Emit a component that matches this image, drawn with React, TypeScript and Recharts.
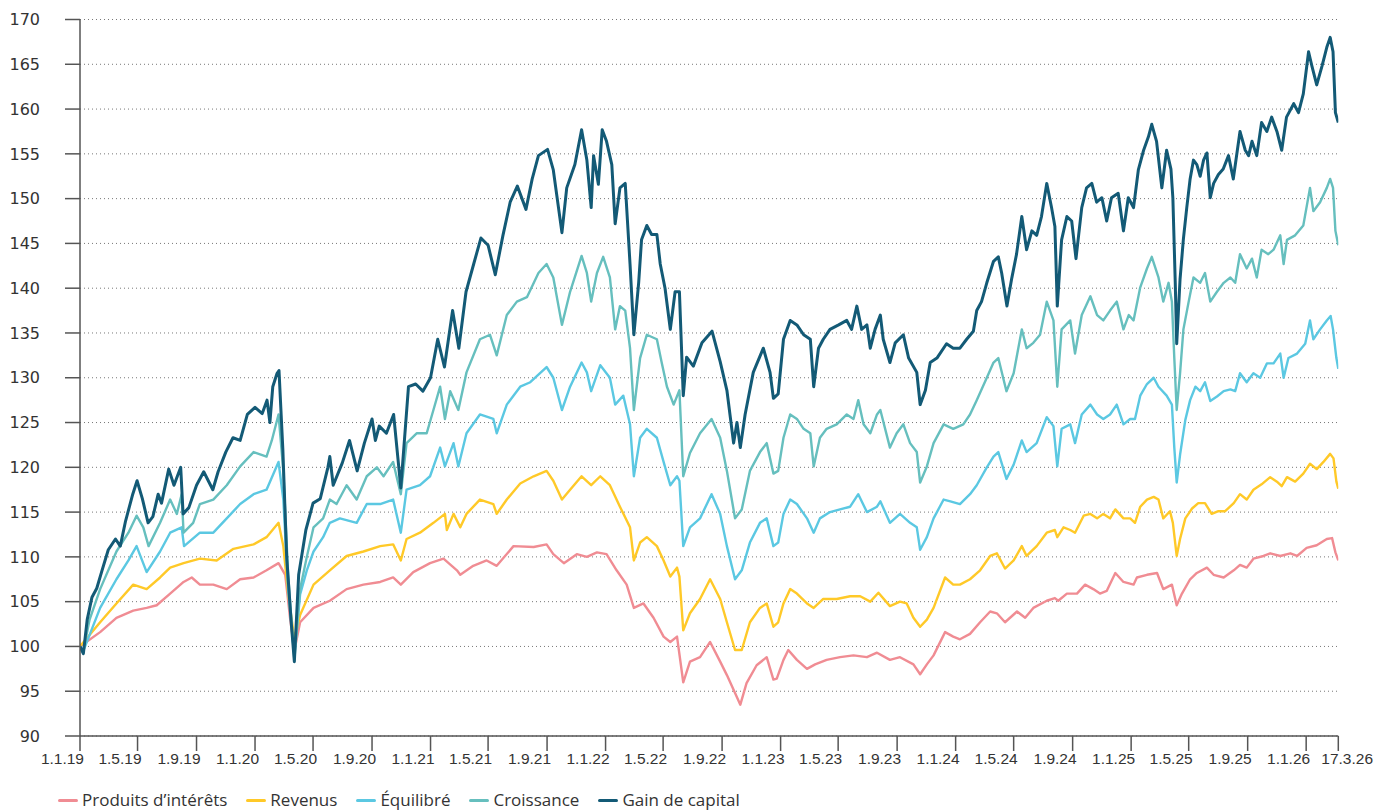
import React from 'react';
import { LineChart, Line, XAxis, YAxis, CartesianGrid } from 'recharts';

// x values are day offsets from 1.1.19
const tickDays = [0, 120, 243, 365, 486, 609, 731, 851, 974, 1096, 1216, 1339, 1461, 1581, 1704, 1826, 1947, 2070, 2192, 2312, 2435, 2557, 2624];
const tickLabels = ['1.1.19', '1.5.19', '1.9.19', '1.1.20', '1.5.20', '1.9.20', '1.1.21', '1.5.21', '1.9.21', '1.1.22', '1.5.22', '1.9.22', '1.1.23', '1.5.23', '1.9.23', '1.1.24', '1.5.24', '1.9.24', '1.1.25', '1.5.25', '1.9.25', '1.1.26', '17.3.26'];
const yTicks = [90, 95, 100, 105, 110, 115, 120, 125, 130, 135, 140, 145, 150, 155, 160, 165, 170];

const produitsInterets: [number, number][] = [[0,100],[42,101.6],[76,103.2],[111,104],[139,104.3],[160,104.6],[188,105.9],[216,107.2],[233,107.7],[250,106.9],[278,106.9],[306,106.4],[334,107.5],[362,107.7],[389,108.5],[414,109.3],[428,108],[438,103.2],[447,99.5],
[459,102.7],[487,104.3],[521,105.1],[556,106.4],[591,106.9],[626,107.2],[653,107.7],[669,106.9],[695,108.3],[730,109.3],[758,109.8],[786,108.5],[793,108],[820,109],[848,109.6],[869,109],[904,111.2],[946,111.1],[973,111.4],[987,110.3],[1009,109.3],[1036,110.3],[1057,110],[1078,110.5],[1098,110.3],[1119,108.5],[1140,106.9],[1155,104.3],[1175,104.8],[1196,103.2],[1217,101.1],[1231,100.5],[1245,101.1],[1258,96],[1272,98.3],[1293,98.8],[1314,100.5],[1335,98.3],[1349,96.8],[1366,94.8],[1377,93.5],[1390,95.9],[1411,97.9],[1432,98.8],[1446,96.3],[1453,96.4],[1467,98.5],[1477,99.6],[1495,98.5],[1516,97.5],[1533,98],[1557,98.5],[1585,98.8],[1613,99],[1641,98.8],[1662,99.3],[1689,98.5],[1710,98.8],[1738,98],[1752,96.9],[1766,98],[1780,99],[1804,101.6],[1821,101.1],[1835,100.8],[1856,101.4],[1877,102.7],[1898,103.9],[1912,103.7],[1929,102.7],[1954,103.9],[1971,103.2],[1988,104.3],[2016,105.1],[2033,105.4],[2040,105.1],[2058,105.9],[2079,105.9],[2096,106.9],[2113,106.4],[2127,105.9],[2141,106.2],[2159,108.2],[2176,107.2],[2197,106.9],[2204,107.7],[2225,108],[2246,108.2],[2259,106.4],[2277,106.9],[2287,104.6],[2298,105.9],[2315,107.5],[2329,108.2],[2350,108.8],[2364,108],[2385,107.7],[2406,108.5],[2419,109.1],[2433,108.8],[2447,109.8],[2468,110.1],[2482,110.4],[2503,110.1],[2524,110.4],[2538,110.1],[2558,111],[2579,111.3],[2600,112],[2611,112.1],[2618,110.5],[2624,109.6]];

const revenus: [number, number][] = [[0,100],[42,102.7],[76,104.8],[111,106.9],[139,106.4],[167,107.7],[188,108.8],[216,109.3],[250,109.8],[285,109.6],[320,110.9],[362,111.4],[389,112.2],[414,113.8],[424,111.2],[434,105.9],[447,100.8],
[459,103.5],[487,106.9],[521,108.5],[556,110.1],[591,110.6],[626,111.2],[653,111.4],[669,109.6],[681,112],[709,112.7],[737,113.8],[761,114.8],[765,113],[779,114.8],[793,113.3],[806,114.8],[834,116.4],[862,115.9],[869,114.8],[890,116.4],[918,118.2],[946,119],[973,119.6],[987,118.5],[1005,116.4],[1022,117.5],[1046,119],[1066,118],[1085,119],[1105,118],[1126,115.6],[1147,113.3],[1155,109.6],[1168,111.6],[1182,112.2],[1203,111.2],[1217,109.6],[1231,107.8],[1245,108.8],[1250,107.8],[1258,101.8],[1272,103.7],[1293,105.3],[1314,107.5],[1335,105.3],[1349,102.7],[1366,99.6],[1380,99.6],[1397,102.7],[1418,104.3],[1432,104.8],[1446,102.2],[1456,102.7],[1467,104.8],[1481,106.4],[1495,105.9],[1516,104.8],[1530,104.3],[1550,105.3],[1578,105.3],[1606,105.6],[1627,105.6],[1648,105],[1665,106],[1689,104.5],[1710,105],[1724,104.8],[1738,103.2],[1752,102.2],[1766,103],[1780,104.3],[1804,107.7],[1821,106.9],[1835,106.9],[1856,107.5],[1877,108.5],[1898,110.1],[1912,110.4],[1929,108.7],[1947,109.6],[1964,111.2],[1974,110.1],[1995,111.2],[2016,112.7],[2033,113],[2038,112.2],[2051,113.3],[2065,113],[2075,112.7],[2093,114.6],[2107,114.8],[2121,114.3],[2134,114.8],[2148,114.3],[2159,115.3],[2176,114.3],[2190,114.3],[2200,113.8],[2211,115.6],[2225,116.4],[2239,116.7],[2249,116.4],[2259,114.3],[2273,115.1],[2279,113.8],[2287,110.1],[2294,112],[2305,114.3],[2319,115.4],[2332,116],[2346,116],[2360,114.8],[2374,115.1],[2388,115.1],[2406,116],[2419,117],[2433,116.4],[2447,117.5],[2464,118.1],[2482,118.9],[2496,118.4],[2506,117.9],[2517,118.9],[2534,118.4],[2551,119.3],[2565,120.4],[2579,119.8],[2593,120.6],[2607,121.5],[2614,121],[2620,118.4],[2624,117.6]];

const equilibre: [number, number][] = [[0,100],[7,99.5],[42,104.3],[76,107.5],[101,109.6],[118,111.2],[139,108.3],[167,110.6],[188,112.7],[212,113.3],[217,111.2],[250,112.7],[278,112.7],[306,114.3],[334,115.9],[362,117],[389,117.5],[414,120.6],[424,116.4],[434,106.4],[447,99],
[459,105.8],[473,108.5],[487,110.6],[507,112.2],[521,113.8],[542,114.3],[577,113.8],[598,115.9],[626,115.9],[653,116.4],[669,112.7],[681,117.5],[709,118],[730,119],[751,122.2],[761,120.1],[779,122.7],[789,120.1],[806,123.8],[834,125.9],[862,125.4],[869,123.8],[890,127],[918,129],[939,129.5],[973,131.2],[987,130],[1005,126.4],[1022,129],[1046,131.7],[1057,130.6],[1066,128.5],[1085,131.4],[1105,130],[1116,127],[1133,128],[1147,124.8],[1155,119],[1168,123.3],[1182,124.3],[1203,123.3],[1217,120.6],[1231,118],[1245,119],[1250,118.5],[1258,111.2],[1272,113.3],[1293,114.3],[1317,117],[1335,114.8],[1349,111.2],[1366,107.5],[1380,108.5],[1397,111.6],[1418,113.8],[1432,114.3],[1446,111.2],[1456,111.6],[1467,114.8],[1481,116.4],[1495,115.9],[1516,114.3],[1530,112.7],[1543,114.3],[1564,115],[1585,115.3],[1606,115.6],[1623,117],[1641,115],[1662,115.6],[1669,116.2],[1689,113.8],[1710,114.8],[1731,113.8],[1745,113.3],[1752,110.8],[1766,112.2],[1780,114.3],[1801,116.4],[1815,116.2],[1835,115.9],[1856,117],[1870,118],[1891,120],[1905,121.2],[1915,121.7],[1932,118.7],[1947,120.3],[1964,123],[1974,121.7],[1995,122.7],[2016,125.6],[2030,124.6],[2038,120.1],[2047,124.3],[2065,124.8],[2075,122.7],[2089,125.9],[2107,127],[2121,125.9],[2134,125.4],[2148,125.9],[2162,127],[2176,124.8],[2190,125.4],[2200,125.4],[2211,128],[2225,129.3],[2239,130],[2249,129],[2266,128],[2277,127],[2282,122.2],[2287,118.3],[2294,121.4],[2305,125.3],[2315,127.5],[2326,129],[2336,128.5],[2346,129.5],[2357,127.4],[2371,127.9],[2385,128.5],[2399,128.7],[2409,128.5],[2419,130.5],[2433,129.5],[2447,130.5],[2461,130],[2475,131.6],[2489,131.6],[2503,132.7],[2510,130],[2520,132.2],[2538,132.7],[2555,133.8],[2565,136.4],[2572,134.3],[2586,135.4],[2600,136.4],[2608,136.9],[2613,135.4],[2620,132.2],[2624,131]];

const croissance: [number, number][] = [[0,100],[7,99.5],[20,103],[42,106.4],[76,110.6],[101,112.7],[118,114.6],[132,113.3],[143,111.2],[167,113.8],[188,116.4],[202,114.8],[212,117],[216,112.7],[236,113.8],[250,115.9],[278,116.4],[306,118],[334,120.1],[362,121.7],[389,121.2],[400,123],[414,125.9],[424,119.6],[434,108],[447,98.5],
[459,106.4],[473,110],[487,113.3],[507,114.3],[521,116.4],[535,115.9],[556,118],[577,116.4],[598,119],[619,120],[633,119],[653,120.6],[669,117],[681,122.7],[702,123.8],[723,123.8],[737,126.4],[751,129],[761,125.4],[772,128.5],[789,126.4],[806,130.6],[834,134.3],[855,134.8],[869,132.5],[890,137],[911,138.5],[932,139],[956,141.7],[973,142.7],[987,141.2],[1005,135.9],[1022,139.6],[1046,143.6],[1057,141.7],[1066,138.5],[1078,141.7],[1091,143.5],[1105,141.2],[1116,135.4],[1126,138],[1137,137.5],[1147,133.3],[1155,126.4],[1168,132.2],[1182,134.8],[1203,134.3],[1213,131.7],[1224,129],[1238,127],[1250,128.6],[1258,119],[1272,121.6],[1293,123.8],[1317,125.4],[1335,123.3],[1349,119.6],[1366,114.3],[1380,115.3],[1397,119.6],[1418,121.7],[1432,122.7],[1446,119.3],[1456,119.6],[1467,123.3],[1481,125.9],[1495,125.4],[1509,124.3],[1523,123.8],[1530,120.1],[1543,123.3],[1557,124.3],[1578,124.8],[1599,125.9],[1613,125.4],[1623,127.5],[1634,124.8],[1648,123.8],[1662,125.9],[1669,126.4],[1689,122.2],[1703,123.8],[1717,124.8],[1731,122.7],[1745,121.7],[1752,118.3],[1766,120.1],[1780,122.7],[1801,124.8],[1821,124.3],[1842,124.8],[1856,125.9],[1870,127.5],[1891,130],[1905,131.7],[1915,132.2],[1932,128.5],[1947,130.5],[1964,135.4],[1974,133.3],[1988,133.9],[2002,134.8],[2016,138.5],[2030,136.4],[2038,129],[2047,135.4],[2065,136.4],[2075,132.7],[2089,137],[2107,139.1],[2121,137],[2134,136.4],[2148,137.5],[2162,138.5],[2176,135.4],[2187,137],[2197,136.4],[2211,140.1],[2225,142.2],[2235,143.5],[2249,141.2],[2259,138.5],[2270,140.6],[2277,138.5],[2282,132.2],[2287,126.4],[2294,130.5],[2301,135.4],[2312,138.5],[2322,141.2],[2336,140.6],[2346,141.7],[2357,138.5],[2371,139.6],[2385,140.6],[2399,141.2],[2409,140.6],[2419,143.8],[2433,142.2],[2444,143.3],[2454,141.2],[2464,144.3],[2478,143.8],[2489,144.3],[2503,145.9],[2510,142.7],[2517,145.4],[2534,145.9],[2551,147],[2565,151.2],[2572,148.6],[2586,149.6],[2600,151.2],[2607,152.2],[2613,151.2],[2618,146.4],[2624,144.8]];

const gainDeCapital: [number, number][] = [[0,100],[7,99.2],[15,103],[25,105.5],[35,106.5],[46,108.5],[59,110.8],[74,112],[84,111.2],[95,114],[110,117],[119,118.5],[130,116.5],[142,113.8],[152,114.5],[163,117],[170,116],[185,119.8],[196,118],[210,120],[215,114.8],[227,115.5],[243,118],[258,119.5],[277,117.5],[288,119.5],[304,121.7],[319,123.3],[334,123],[349,125.9],[365,126.7],[380,126],[390,127.5],[396,125],[402,129],[411,130.5],[415,130.8],[423,122],[431,110],[440,103],[447,98.3],
[456,108],[471,113],[486,116],[501,116.5],[517,120],[521,121.2],[528,118],[547,120.5],[562,123],[578,119.6],[593,122.7],[609,125.4],[616,123],[624,124.6],[639,123.8],[654,125.9],[669,117.7],[685,129],[700,129.3],[715,128.5],[731,130],[746,134.3],[760,131.2],[777,137.5],[790,133.3],[805,139.6],[821,142.7],[836,145.6],[851,144.8],[866,141.5],[882,145.9],[897,149.6],[912,151.4],[930,148.8],[943,152.2],[956,154.8],
[975,155.5],[987,153.2],[1005,146.2],[1015,151.2],[1032,153.8],[1046,157.7],[1057,154.3],[1066,149],[1071,154.8],[1081,151.6],[1089,157.7],[1098,156.4],[1109,153.8],[1116,147.2],[1126,151.2],[1137,151.7],[1147,142.7],[1155,134.8],[1165,140.6],[1171,145.4],[1182,147],[1192,146],[1203,146],[1210,142.7],[1220,140],[1231,135.4],[1241,139.6],[1250,139.6],[1258,128],[1265,132.3],[1279,131.3],[1297,133.9],[1318,135.2],[1335,131.8],[1349,128.6],[1363,122.7],[1370,125],[1377,122.2],[1387,125.9],[1404,130.6],[1425,133.3],[1439,130.6],[1446,127.7],[1456,128.2],
[1467,134.3],[1481,136.4],[1495,135.9],[1509,134.8],[1523,134.3],[1530,129],[1540,133.3],[1550,134.3],[1564,135.4],[1582,135.9],[1599,136.4],[1609,135.4],[1620,138],[1630,135.4],[1641,135.9],[1648,133.3],[1658,135.4],[1669,137],[1675,134.3],[1689,131.7],[1700,133.9],[1717,134.8],[1728,132.2],[1745,130.6],[1752,127],[1763,128.6],[1773,131.7],[1787,132.2],[1807,133.8],[1821,133.3],[1835,133.3],[1849,134.3],[1863,135.2],[1870,137.5],[1880,138.5],[1891,140.6],[1905,143],[1915,143.5],[1922,141.7],[1933,138],[1943,141.1],[1953,143.8],[1964,148],[1974,144.3],[1985,146.4],[1995,145.9],[2005,148],[2016,151.7],[2026,149],[2033,146.9],[2038,138],[2047,145.4],[2058,148],[2068,147.5],[2077,143.3],[2089,149],[2099,151.2],[2110,151.7],[2120,149.6],[2131,150.1],[2141,147.5],[2151,150.1],[2165,150.6],[2176,146.4],[2186,150.1],[2197,149],[2207,153.2],[2218,155.4],[2228,156.9],[2235,158.3],[2245,156.4],[2256,151.2],[2266,155.4],[2275,153.3],[2279,150.1],[2284,140.6],[2287,133.8],[2294,141],[2301,145.5],[2308,149],[2315,152.2],[2322,154.3],[2329,153.8],[2336,152.5],[2343,154.3],[2350,155.1],[2357,150.1],[2364,151.7],[2374,152.7],[2384,153.3],[2395,154.8],[2405,152.2],[2419,157.5],[2430,155.4],[2437,154.8],[2444,156.4],[2454,154.8],[2464,158.5],[2475,157.5],[2485,159.1],[2496,157.5],[2506,155.4],[2516,159.1],[2531,160.6],[2541,159.6],[2551,161.7],[2562,166.4],[2569,164.8],[2579,162.7],[2590,164.8],[2600,166.9],[2607,168],[2613,166.4],[2618,159.6],[2624,158.5]];

const seriesNames = ["Produits d\u2019intérêts", 'Revenus', 'Équilibré', 'Croissance', 'Gain de capital'];
const seriesColors = ['#F08C93', '#FFC928', '#5BC8E2', '#66BFBE', '#135A76'];
const seriesData = [produitsInterets, revenus, equilibre, croissance, gainDeCapital];
const seriesWidths = [2.4, 2.4, 2.4, 2.4, 3];

const W = 1387;
const H = 803;

const XTick = (props: any) => {
  const { x, y, payload } = props;
  const i = tickDays.indexOf(payload.value);
  const last = i === tickDays.length - 1;
  return (
    <text
      x={last ? x - 17 : x + 4}
      y={y + 11}
      textAnchor={last ? 'start' : 'end'}
      fontSize={15.5}
      fontFamily="'Liberation Sans', Arial, sans-serif"
      fill="#333"
    >
      {tickLabels[i]}
    </text>
  );
};

export default function App() {
  return (
    <div style={{ position: 'relative', width: W, height: H, background: '#fff' }}>
      <LineChart width={W} height={H} margin={{ top: 11.5, right: 56.7, left: 0, bottom: 35 }}>
        <CartesianGrid vertical={false} stroke="#777" strokeDasharray="1 3" />
        <XAxis
          type="number"
          dataKey="d"
          domain={[0, 2624]}
          ticks={tickDays}
          interval={0}
          allowDataOverflow
          height={40}
          tickSize={15}
          tickMargin={2}
          axisLine={{ stroke: '#555', strokeWidth: 1.5 }}
          tickLine={{ stroke: '#555', strokeWidth: 1.5 }}
          tick={(p: any) => <XTick {...p} />}
        />
        <YAxis
          type="number"
          domain={[90, 170]}
          ticks={yTicks}
          interval={0}
          allowDataOverflow
          width={72}
          tickSize={15}
          tickMargin={25}
          axisLine={{ stroke: '#555', strokeWidth: 1.5 }}
          tickLine={{ stroke: '#555', strokeWidth: 1.5 }}
          tick={{ fontSize: 16, fontFamily: "'DejaVu Sans', sans-serif", fill: '#333' }}
        />
        {seriesData.map((s, i) => (
          <Line
            key={seriesNames[i]}
            data={s.map(([d, v]) => ({ d, v }))}
            dataKey="v"
            type="linear"
            stroke={seriesColors[i]}
            strokeWidth={seriesWidths[i]}
            strokeLinejoin="round"
            dot={false}
            activeDot={false}
            isAnimationActive={false}
          />
        ))}
      </LineChart>
      <div
        style={{
          position: 'absolute',
          left: 50,
          top: 780,
          display: 'flex',
          alignItems: 'center',
          fontFamily: "'Open Sans', 'Liberation Sans', Arial, sans-serif",
          fontSize: 17,
          color: '#333',
          whiteSpace: 'nowrap',
          lineHeight: '24px',
        }}
      >
        {seriesNames.map((n, i) => (
          <div key={n} style={{ display: 'flex', alignItems: 'center', marginRight: 19 }}>
            <span style={{ display: 'inline-block', width: 20, height: 3, borderRadius: 2, background: seriesColors[i], marginRight: 4 }} />
            <span>{n}</span>
          </div>
        ))}
      </div>
    </div>
  );
}
